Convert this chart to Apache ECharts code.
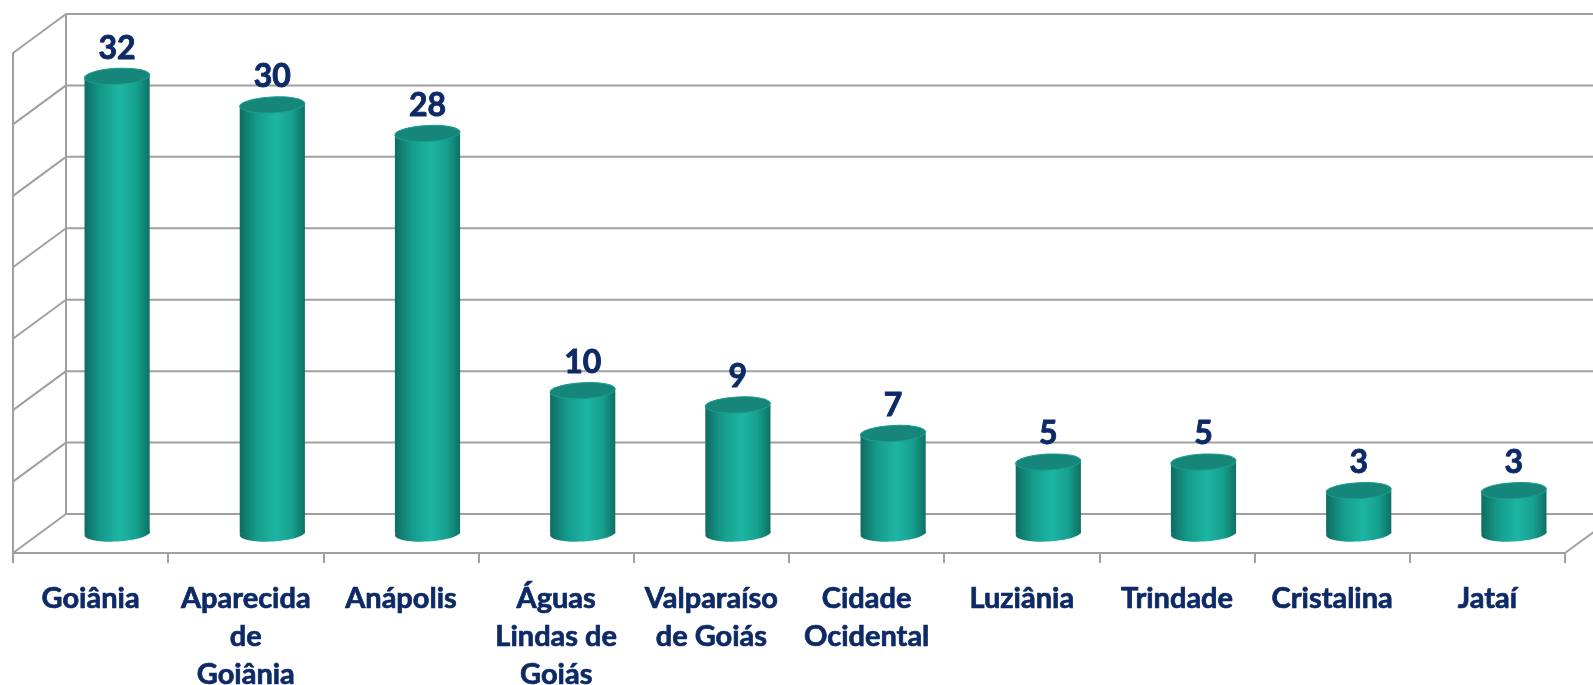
<!DOCTYPE html>
<html>
<head>
<meta charset="utf-8">
<title>Municípios</title>
<script src="https://cdn.jsdelivr.net/npm/echarts@6/dist/echarts.min.js"></script>
<style>
  html, body { margin: 0; padding: 0; background: #fff; }
  #chart { width: 1593px; height: 685px; }
</style>
</head>
<body>
<div id="chart"></div>
<script>
// categorias e valores
const categories = ['Goiânia', 'Aparecida\nde\nGoiânia', 'Anápolis', 'Águas\nLindas de\nGoiás',
  'Valparaíso\nde Goiás', 'Cidade\nOcidental', 'Luziânia', 'Trindade', 'Cristalina', 'Jataí'];
const values = [32, 30, 28, 10, 9, 7, 5, 5, 3, 3];
const yTicks = [0, 5, 10, 15, 20, 25, 30, 35];

// profundidade da perspectiva
const DX = 53, DY = -39;
const GRID_COLOR = '#a0a0a0';
const TEXT_COLOR = '#0d2a67';
const TILT = 0.05;

var myChart = echarts.init(document.getElementById('chart'));

function wallItem (params, api) {
  let cs = params.coordSys,
      x0 = cs.x,
      x1 = cs.x + cs.width,
      y = api.coord([0, api.value(1)])[1],
      style = { stroke: GRID_COLOR, lineWidth: 2 },
      children = [
        { type: 'line', shape: { x1: x0, y1: y, x2: x0 + DX, y2: y + DY }, style: style },
        { type: 'line', shape: { x1: x0 + DX, y1: y + DY, x2: x1 + DX, y2: y + DY }, style: style }
      ];
  if (params.dataIndex === 0) {
    // chão à direita e parede de fundo à esquerda
    children.push({ type: 'line', shape: { x1: x1, y1: y, x2: x1 + DX, y2: y + DY }, style: style });
    children.push({ type: 'line', shape: { x1: x0 + DX, y1: y + DY, x2: x0 + DX, y2: cs.y + DY }, style: style });
  }
  return { type: 'group', children: children };
}

function cylinderItem (params, api) {
  let top = api.coord([api.value(0), api.value(1)]),
      base = api.coord([api.value(0), 0]),
      band = api.size([1, 0])[0],
      rx = band * 0.21,
      ry = 8,
      cx = top[0] + DX / 2,
      cyTop = top[1] + DY / 2,
      cyBase = base[1] + DY / 2;
  let body = new echarts.graphic.LinearGradient(0, 0, 1, 0, [
    { offset: 0, color: '#0e6c61' },
    { offset: 0.25, color: '#159a8a' },
    { offset: 0.55, color: '#1db5a2' },
    { offset: 0.8, color: '#17a08f' },
    { offset: 1, color: '#0e7064' }
  ]);
  return {
    type: 'group',
    children: [
      { type: 'ellipse', x: cx, y: cyBase, rotation: TILT,
        shape: { cx: 0, cy: 0, rx: rx, ry: ry }, style: { fill: body } },
      { type: 'rect', shape: { x: cx - rx, y: cyTop, width: rx * 2, height: cyBase - cyTop }, style: { fill: body } },
      { type: 'ellipse', x: cx, y: cyTop, rotation: TILT,
        shape: { cx: 0, cy: 0, rx: rx, ry: ry },
        style: { fill: '#16867a', stroke: '#1b9f8f', lineWidth: 1 } },
      { type: 'text', x: cx, y: cyTop - ry - 4,
        style: {
          text: String(api.value(1)), align: 'center', verticalAlign: 'bottom',
          fill: TEXT_COLOR, font: 'bold 32px Lato',
          stroke: TEXT_COLOR, lineWidth: 0.9
        } }
    ]
  };
}

myChart.setOption({
  animation: false,
  grid: { left: 13, right: 28, top: 53, bottom: 132, outerBoundsMode: 'none' },
  xAxis: {
    type: 'category',
    data: categories,
    axisLine: { lineStyle: { color: GRID_COLOR, width: 2 } },
    axisTick: { show: true, length: 10, lineStyle: { color: GRID_COLOR, width: 2 } },
    axisLabel: {
      interval: 0, margin: 27, color: TEXT_COLOR,
      fontFamily: 'Lato', fontWeight: 'bold', fontSize: 29, lineHeight: 38,
      textBorderColor: TEXT_COLOR, textBorderWidth: 0.7
    }
  },
  yAxis: {
    type: 'value',
    min: 0, max: 35, interval: 5,
    axisLine: { show: true, lineStyle: { color: GRID_COLOR, width: 2 } },
    axisTick: { show: false },
    axisLabel: { show: false },
    splitLine: { show: false }
  },
  series: [
    {
      type: 'custom',
      renderItem: wallItem,
      data: yTicks.map(v => [0, v]),
      silent: true,
      z: 1
    },
    {
      type: 'custom',
      renderItem: cylinderItem,
      data: values.map((v, i) => [i, v]),
      z: 3
    }
  ]
});
</script>
</body>
</html>
